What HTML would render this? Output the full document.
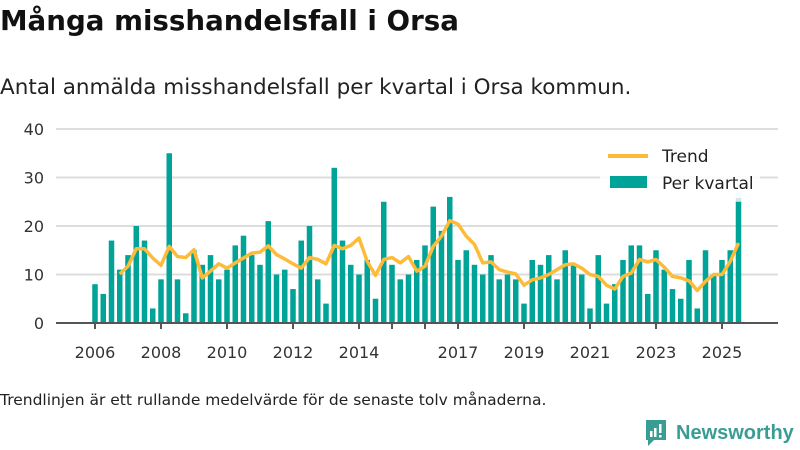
<!DOCTYPE html>
<html><head><meta charset="utf-8"><style>
body{margin:0;width:800px;height:450px;background:#fff;font-family:"DejaVu Sans","Liberation Sans",sans-serif;overflow:hidden;position:relative}
#title{position:absolute;left:0;top:4px;font-size:27.7px;font-weight:bold;color:#111;margin:0}
#sub{position:absolute;left:0;top:75px;font-size:21.5px;color:#222}
#note{position:absolute;left:0;top:391px;font-size:15.5px;color:#222}
#logo{position:absolute;left:644px;top:418px;display:flex;align-items:center}
#logo span{font-size:20px;color:#3a9d94;font-weight:bold;margin-left:8px;font-family:"Liberation Sans",sans-serif}
</style></head><body>
<h1 id="title">Många misshandelsfall i Orsa</h1>
<div id="sub">Antal anmälda misshandelsfall per kvartal i Orsa kommun.</div>
<svg id="chart" width="800" height="380" style="position:absolute;left:0;top:0"></svg>
<div id="note">Trendlinjen är ett rullande medelvärde för de senaste tolv månaderna.</div>
<div id="logo">
<svg width="24" height="30" viewBox="0 0 24 30"><path d="M2 2h20v20h-12l-6 6v-6h-2z" fill="#3a9d94"/><rect x="6" y="13" width="2.5" height="6" fill="#fff"/><rect x="10" y="10" width="2.5" height="9" fill="#fff"/><rect x="15" y="6" width="2.5" height="9" fill="#fff"/><rect x="15" y="17" width="2.5" height="2.5" fill="#fff"/></svg>
<span>Newsworthy</span></div>
<script>
const values=[8,6,17,11, 14,20,17,3, 9,35,9,2, 15,12,14,9, 11,16,18,14, 12,21,10,11, 7,17,20,9, 4,32,17,12, 10,13,5,25, 12,9,10,13, 16,24,19,26, 13,15,12,10, 14,9,10,9, 4,13,12,14, 9,15,12,10, 3,14,4,8, 13,16,16,6, 15,11,7,5, 13,3,15,10, 13,15,25];
const trend=[10.1, 11.7,15.3,15.3,13.4, 11.9,15.8,13.7,13.5, 15.1,9.3,10.7,12.2, 11.3,12.4,13.4,14.4, 14.6,15.9,14.1,13.2, 12.2,11.3,13.5,13.1, 12.2,16,15.3,16, 17.5,12.7,9.8,13.1, 13.5,12.4,13.7,10.7, 11.7,15.8,17.9,21.1, 20.4,17.9,16.2,12.4, 12.6,11,10.5,10.1, 7.8,8.9,9.3,10, 11,12,12.2,11.3, 10,9.6,7.8,7, 9.6,10.3,13.1,12.6, 13.1,11.5,9.6,9.3, 8.7,6.7,8.6,10, 10,12.7,16.5];
const preliminary=27;
const trendStart=3;
const yTicks=[0,10,20,30,40];
const xTickYears=[2006,2008,2010,2012,2014,2015,2016,2017,2019,2021,2023,2025];
const xLabelYears=[2006,2008,2010,2012,2014,2017,2019,2021,2023,2025];
const NS="http://www.w3.org/2000/svg",svg=document.getElementById('chart');
const y=v=>323-v*4.85, xq=i=>95+i*8.25, xy=yr=>95+(yr-2006)*33;
function mk(t,a,p){const e=document.createElementNS(NS,t);for(const k in a)e.setAttribute(k,a[k]);(p||svg).appendChild(e);return e;}
yTicks.forEach(v=>{
 if(v>0){const g=mk('line',{x1:56,x2:778,y1:y(v),y2:y(v),stroke:'#ddd','stroke-width':2});
 
 }
 const t=mk('text',{x:44,y:y(v)+6,'text-anchor':'end','font-size':16,fill:'#333'});t.textContent=v;
 
 
});
values.forEach((v,i)=>{
 if(i===values.length-1){const p=mk('rect',{x:xq(i)-2.75,y:y(preliminary),width:5.5,height:y(v)-y(preliminary),fill:'#cfe9e6'});
 
 }
 const r=mk('rect',{x:xq(i)-2.75,y:y(v),width:5.5,height:323-y(v),fill:'#00a397'});
 
 
});
const ax=mk('line',{x1:56,x2:778,y1:323,y2:323,stroke:'#555','stroke-width':2});


xTickYears.forEach(yr=>{const t=mk('line',{x1:xy(yr),x2:xy(yr),y1:323,y2:329,stroke:'#555','stroke-width':2});
 
 });
xLabelYears.forEach(yr=>{const t=mk('text',{x:xy(yr),y:358,'text-anchor':'middle','font-size':16,fill:'#333'});t.textContent=yr;
 
 });
const pl=mk('polyline',{points:trend.map((v,i)=>xq(i+trendStart)+','+y(v)).join(' '),fill:'none',stroke:'#fdbb3a','stroke-width':3.5,'stroke-linejoin':'round'});


const lg=mk('g',{});


mk('rect',{x:600,y:140,width:160,height:58,fill:'#fff',opacity:0.85},lg);
mk('line',{x1:608,x2:648,y1:156,y2:156,stroke:'#fdbb3a','stroke-width':4},lg);
const t1=mk('text',{x:662,y:162,'font-size':17,fill:'#222'},lg);t1.textContent='Trend';
mk('rect',{x:610,y:176,width:37,height:12,fill:'#00a397'},lg);
const t2=mk('text',{x:662,y:189,'font-size':17,fill:'#222'},lg);t2.textContent='Per kvartal';
</script>
</body></html>
